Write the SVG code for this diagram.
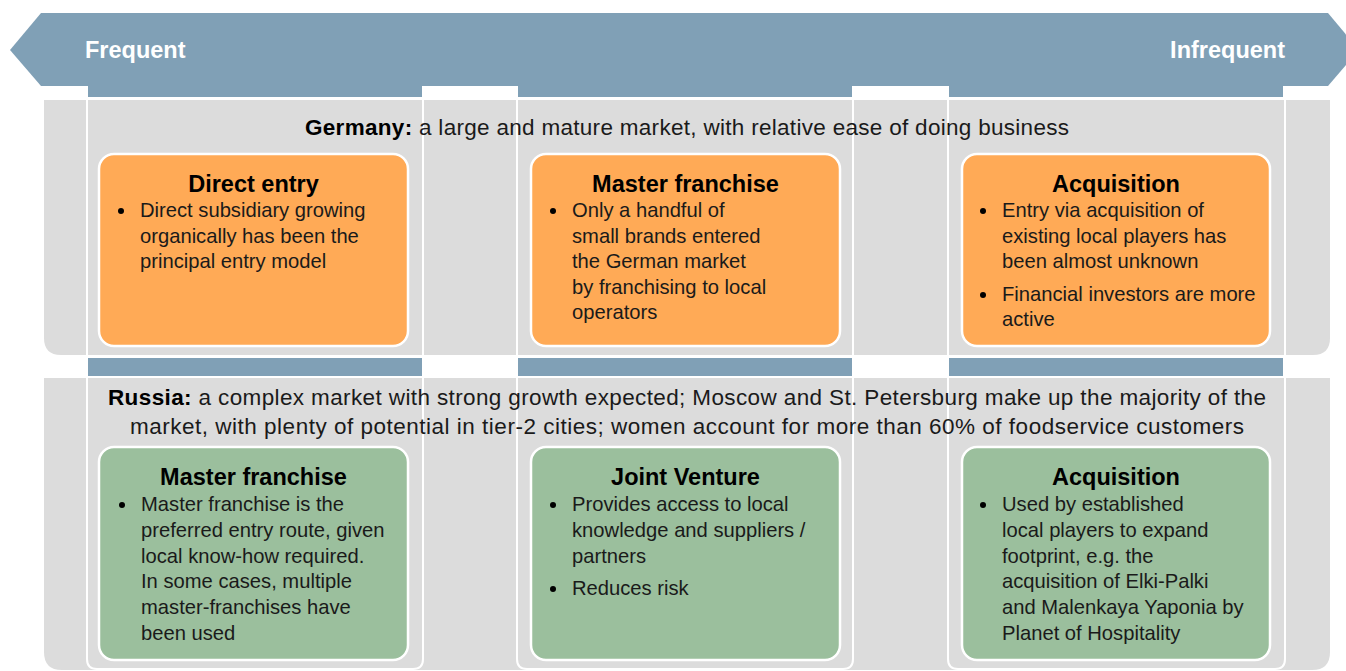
<svg xmlns="http://www.w3.org/2000/svg" width="1346" height="671" viewBox="0 0 1346 671">
  <style>
    text { font-family: "Liberation Sans", Arial, sans-serif; fill: #1a1a1a; }
    .band { fill: #80a0b6; }
    .panel { fill: #dcdcdc; }
    .col { fill: none; stroke: #ffffff; stroke-width: 2; }
    .box { stroke: #ffffff; stroke-width: 2.5; }
    .de { fill: #ffaa56; }
    .ru { fill: #9bbf9d; }
    .head { font-size: 23.5px; font-weight: bold; fill: #ffffff; }
    .title { font-size: 23.5px; font-weight: bold; fill: #000000; text-anchor: middle; }
    .body { font-size: 20.2px; }
    .market { font-size: 22.5px; text-anchor: middle; }
    .market tspan.b { font-weight: bold; fill: #000000; }
    .dot { fill: #000000; }
  </style>

  <!-- frequency scale banner -->
  <g id="scale">
    <polygon class="band" points="10,50 41,13 1328,13 1359,50 1328,86 41,86"/>
    <rect class="band" x="88" y="85" width="334" height="12"/>
    <rect class="band" x="517" y="85" width="335" height="12"/>
    <rect class="band" x="948" y="85" width="335" height="12"/>
    <text class="head" x="85" y="58">Frequent</text>
    <text class="head" x="1285" y="58" text-anchor="end">Infrequent</text>
  </g>

  <!-- market panels -->
  <g id="panels">
    <path class="panel" d="M44,100 H1330 V338 Q1330,355 1313,355 H61 Q44,355 44,338 Z"/>
    <path class="panel" d="M44,378 H1330 V652 Q1330,670 1312,670 H62 Q44,670 44,652 Z"/>
    <rect class="band" x="88" y="358" width="334" height="18"/>
    <rect class="band" x="517" y="358" width="335" height="18"/>
    <rect class="band" x="948" y="358" width="335" height="18"/>
  </g>

  <!-- column outlines -->
  <g id="columns">
    <path class="col" d="M87,86 V659 Q87,669 97,669 H413 Q423,669 423,659 V86"/>
    <path class="col" d="M517,86 V659 Q517,669 527,669 H843 Q853,669 853,659 V86"/>
    <path class="col" d="M948,86 V659 Q948,669 958,669 H1275 Q1285,669 1285,659 V86"/>
  </g>

  <!-- market descriptions -->
  <g id="germany-label">
    <text class="market" x="687" y="135" textLength="764" lengthAdjust="spacing"><tspan class="b">Germany:</tspan> a large and mature market, with relative ease of doing business</text>
  </g>
  <g id="russia-label">
    <text class="market" x="687" y="405" textLength="1158" lengthAdjust="spacing"><tspan class="b">Russia:</tspan> a complex market with strong growth expected; Moscow and St. Petersburg make up the majority of the</text>
    <text class="market" x="687" y="434" textLength="1114" lengthAdjust="spacing">market, with plenty of potential in tier-2 cities; women account for more than 60% of foodservice customers</text>
  </g>

  <!-- Germany: direct entry -->
  <g id="de-direct-entry">
    <rect class="box de" x="99" y="154" width="309" height="192" rx="15"/>
    <text class="title" x="253.5" y="192">Direct entry</text>
    <circle class="dot" cx="121" cy="211" r="3"/>
    <text class="body" x="140" y="217">Direct subsidiary growing</text>
    <text class="body" x="140" y="242.5">organically has been the</text>
    <text class="body" x="140" y="268">principal entry model</text>
  </g>

  <!-- Germany: master franchise -->
  <g id="de-master-franchise">
    <rect class="box de" x="531" y="154" width="309" height="192" rx="15"/>
    <text class="title" x="685.5" y="192">Master franchise</text>
    <circle class="dot" cx="553" cy="211" r="3"/>
    <text class="body" x="572" y="217">Only a handful of</text>
    <text class="body" x="572" y="242.5">small brands entered</text>
    <text class="body" x="572" y="268">the German market</text>
    <text class="body" x="572" y="293.5">by franchising to local</text>
    <text class="body" x="572" y="319">operators</text>
  </g>

  <!-- Germany: acquisition -->
  <g id="de-acquisition">
    <rect class="box de" x="962" y="154" width="308" height="192" rx="15"/>
    <text class="title" x="1116" y="192">Acquisition</text>
    <circle class="dot" cx="983" cy="211" r="3"/>
    <text class="body" x="1002" y="217">Entry via acquisition of</text>
    <text class="body" x="1002" y="242.5">existing local players has</text>
    <text class="body" x="1002" y="268">been almost unknown</text>
    <circle class="dot" cx="983" cy="295" r="3"/>
    <text class="body" x="1002" y="301">Financial investors are more</text>
    <text class="body" x="1002" y="326">active</text>
  </g>

  <!-- Russia: master franchise -->
  <g id="ru-master-franchise">
    <rect class="box ru" x="99" y="447" width="309" height="213" rx="15"/>
    <text class="title" x="253.5" y="485">Master franchise</text>
    <circle class="dot" cx="122" cy="505" r="3"/>
    <text class="body" x="141" y="511">Master franchise is the</text>
    <text class="body" x="141" y="537">preferred entry route, given</text>
    <text class="body" x="141" y="563">local know-how required.</text>
    <text class="body" x="141" y="588">In some cases, multiple</text>
    <text class="body" x="141" y="614">master-franchises have</text>
    <text class="body" x="141" y="640">been used</text>
  </g>

  <!-- Russia: joint venture -->
  <g id="ru-joint-venture">
    <rect class="box ru" x="531" y="447" width="309" height="213" rx="15"/>
    <text class="title" x="685.5" y="485">Joint Venture</text>
    <circle class="dot" cx="553" cy="505" r="3"/>
    <text class="body" x="572" y="511">Provides access to local</text>
    <text class="body" x="572" y="537">knowledge and suppliers /</text>
    <text class="body" x="572" y="563">partners</text>
    <circle class="dot" cx="553" cy="589" r="3"/>
    <text class="body" x="572" y="595">Reduces risk</text>
  </g>

  <!-- Russia: acquisition -->
  <g id="ru-acquisition">
    <rect class="box ru" x="962" y="447" width="308" height="213" rx="15"/>
    <text class="title" x="1116" y="485">Acquisition</text>
    <circle class="dot" cx="983" cy="505" r="3"/>
    <text class="body" x="1002" y="511">Used by established</text>
    <text class="body" x="1002" y="537">local players to expand</text>
    <text class="body" x="1002" y="563">footprint, e.g. the</text>
    <text class="body" x="1002" y="588">acquisition of Elki-Palki</text>
    <text class="body" x="1002" y="614">and Malenkaya Yaponia by</text>
    <text class="body" x="1002" y="640">Planet of Hospitality</text>
  </g>
</svg>
